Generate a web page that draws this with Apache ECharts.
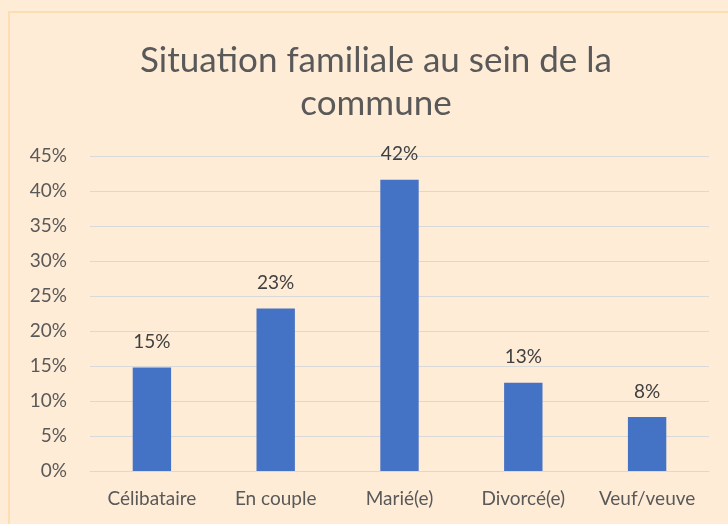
<!DOCTYPE html>
<html>
<head>
<meta charset="utf-8">
<script src="https://cdn.jsdelivr.net/npm/echarts@6/dist/echarts.min.js"></script>
<style>
html, body { margin: 0; padding: 0; background: #FEECD7; }
#chart { width: 728px; height: 524px; }
</style>
</head>
<body>
<div id="chart"></div>
<script>
var categories = ['Célibataire', 'En couple', 'Marié(e)', 'Divorcé(e)', 'Veuf/veuve'];
var shares = [0.148, 0.232, 0.416, 0.126, 0.077];
var yTicks = [0, 0.05, 0.10, 0.15, 0.20, 0.25, 0.30, 0.35, 0.40, 0.45];

var chart = echarts.init(document.getElementById('chart'));
var textColor = '#595959';
var font = 'Lato';

chart.setOption({
    backgroundColor: '#FEECD7',
    graphic: [{
        type: 'rect',
        shape: { x: 9, y: 12, width: 740, height: 540 },
        style: { fill: 'none', stroke: '#FDDDB2', lineWidth: 2 },
        silent: true
    }],
    title: {
        text: 'Situation familiale au sein de la\ncommune',
        left: 371,
        textAlign: 'center',
        top: 34,
        textStyle: {
            fontFamily: font,
            fontSize: 35,
            fontWeight: 'normal',
            color: textColor,
            lineHeight: 43
        }
    },
    grid: { left: 90, right: 19, top: 156, bottom: 53 },
    xAxis: {
        type: 'category',
        data: categories,
        axisLine: { lineStyle: { color: '#D9D9D9', width: 1 } },
        axisTick: { show: false },
        axisLabel: { color: textColor, fontFamily: font, fontSize: 19, margin: 18, interval: 0 }
    },
    yAxis: {
        type: 'value',
        min: yTicks[0],
        max: yTicks[yTicks.length - 1],
        interval: 0.05,
        axisLine: { show: false },
        axisTick: { show: false },
        splitLine: { lineStyle: { color: '#D9D9D9', width: 1 } },
        axisLabel: {
            color: textColor, fontFamily: font, fontSize: 19, margin: 23,
            formatter: function (v) { return Math.round(v * 100) + '%'; }
        }
    },
    series: [{
        type: 'bar',
        data: shares,
        barWidth: '31%',
        itemStyle: { color: '#4472C4' },
        label: {
            show: true,
            position: 'top',
            distance: 16,
            color: '#404040',
            fontFamily: font,
            fontSize: 19,
            formatter: function (p) { return Math.round(p.value * 100) + '%'; }
        }
    }]
});
</script>
</body>
</html>
